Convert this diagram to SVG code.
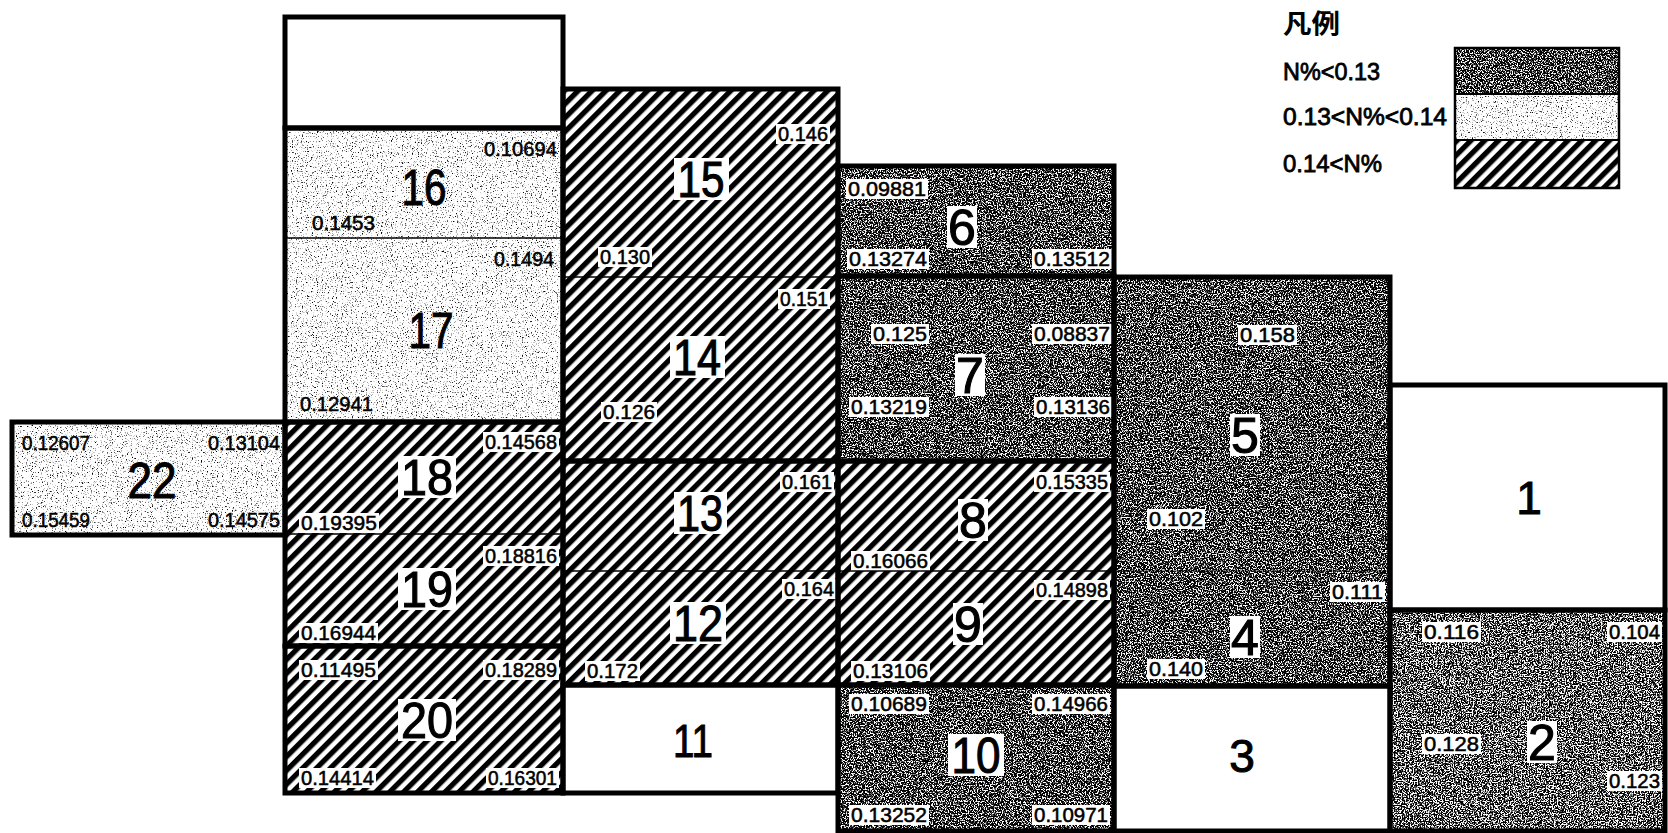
<svg xmlns="http://www.w3.org/2000/svg" width="1668" height="833" viewBox="0 0 1668 833">
<defs>
<style>
.s{font-family:"Liberation Sans",Arial,sans-serif;font-size:21px;fill:#000;stroke:#000;stroke-width:0.55}
.b{font-family:"Liberation Sans",Arial,sans-serif;font-size:50px;text-anchor:middle;fill:#000;stroke:#000;stroke-width:1.1}
.bw{font-family:"Liberation Sans",Arial,sans-serif;font-size:46px;text-anchor:middle;fill:#000;stroke:#000;stroke-width:1}
.lg{font-family:"Liberation Sans",Arial,sans-serif;font-size:24px;fill:#000;stroke:#000;stroke-width:0.8}
.cjk{font-family:"Liberation Sans","Noto Sans CJK JP",sans-serif;font-size:26px;font-weight:bold;fill:#000}
.box{fill:#fff}
.thick{fill:none;stroke:#000;stroke-width:5}
.thin{stroke:#000;stroke-width:1.5}
.hatch{fill:url(#hatch)}
.dark{fill:#000;filter:url(#fDark)}
.dark2{fill:#000;filter:url(#fDark2)}
.light{fill:#fff;filter:url(#fLight)}
.white{fill:#fff}
</style>
<pattern id="hatch" patternUnits="userSpaceOnUse" width="9.8" height="9.8" patternTransform="rotate(45)">
<rect width="9.8" height="9.8" fill="#fff"/>
<rect width="5.3" height="9.8" fill="#000"/>
</pattern>
<filter id="fDark" x="0" y="0" width="1" height="1" color-interpolation-filters="sRGB">
<feTurbulence type="fractalNoise" baseFrequency="0.75" numOctaves="2" seed="7" result="n"/>
<feColorMatrix in="n" type="matrix" values="8 0 0 0 -3.9  8 0 0 0 -3.9  8 0 0 0 -3.9  0 0 0 0 1" result="g"/>
<feComposite in="g" in2="SourceAlpha" operator="in"/>
</filter>
<filter id="fDark2" x="0" y="0" width="1" height="1" color-interpolation-filters="sRGB">
<feTurbulence type="fractalNoise" baseFrequency="0.75" numOctaves="2" seed="11" result="n"/>
<feColorMatrix in="n" type="matrix" values="8 0 0 0 -3.7  8 0 0 0 -3.7  8 0 0 0 -3.7  0 0 0 0 1" result="g"/>
<feComposite in="g" in2="SourceAlpha" operator="in"/>
</filter>
<filter id="fLight" x="0" y="0" width="1" height="1" color-interpolation-filters="sRGB">
<feTurbulence type="fractalNoise" baseFrequency="0.8" numOctaves="2" seed="3" result="n"/>
<feColorMatrix in="n" type="matrix" values="-5 0 0 0 3.95  -5 0 0 0 3.95  -5 0 0 0 3.95  0 0 0 0 1" result="g"/>
<feComposite in="g" in2="SourceAlpha" operator="in"/>
</filter>
</defs>
<rect width="1668" height="833" fill="#fff"/>

<g id="blank-top"><rect class="white" x="285" y="17" width="278" height="111"/></g>

<g id="r16">
<rect class="light" x="285" y="128" width="278" height="110"/>
<text class="s" x="484" y="156" textLength="73" lengthAdjust="spacingAndGlyphs">0.10694</text>
<text class="b" x="424" y="205" textLength="45" lengthAdjust="spacingAndGlyphs">16</text>
<text class="s" x="312" y="230" textLength="63" lengthAdjust="spacingAndGlyphs">0.1453</text>
</g>
<g id="r17">
<rect class="light" x="285" y="238" width="278" height="184"/>
<text class="s" x="494" y="266" textLength="60" lengthAdjust="spacingAndGlyphs">0.1494</text>
<text class="b" x="431" y="348" textLength="45" lengthAdjust="spacingAndGlyphs">17</text>
<text class="s" x="300" y="411" textLength="73" lengthAdjust="spacingAndGlyphs">0.12941</text>
</g>
<g id="r22">
<rect class="light" x="12" y="422" width="273" height="113"/>
<text class="s" x="22" y="450" textLength="68" lengthAdjust="spacingAndGlyphs">0.12607</text>
<text class="s" x="208" y="450" textLength="72" lengthAdjust="spacingAndGlyphs">0.13104</text>
<text class="b" x="152" y="498" textLength="49" lengthAdjust="spacingAndGlyphs">22</text>
<text class="s" x="22" y="527" textLength="68" lengthAdjust="spacingAndGlyphs">0.15459</text>
<text class="s" x="208" y="527" textLength="72" lengthAdjust="spacingAndGlyphs">0.14575</text>
</g>
<g id="r18">
<rect class="hatch" x="285" y="422" width="278" height="112"/>
<rect class="box" x="483" y="432" width="76" height="20"/>
<text class="s" x="485" y="449" textLength="72" lengthAdjust="spacingAndGlyphs">0.14568</text>
<rect class="box" x="398" y="456" width="58" height="42"/>
<text class="b" x="427" y="495" textLength="52" lengthAdjust="spacingAndGlyphs">18</text>
<rect class="box" x="299" y="513" width="80" height="20"/>
<text class="s" x="301" y="530" textLength="76" lengthAdjust="spacingAndGlyphs">0.19395</text>
</g>
<g id="r19">
<rect class="hatch" x="285" y="534" width="278" height="112"/>
<rect class="box" x="483" y="546" width="76" height="20"/>
<text class="s" x="485" y="563" textLength="72" lengthAdjust="spacingAndGlyphs">0.18816</text>
<rect class="box" x="398" y="568" width="58" height="42"/>
<text class="b" x="427" y="607" textLength="52" lengthAdjust="spacingAndGlyphs">19</text>
<rect class="box" x="299" y="623" width="79" height="20"/>
<text class="s" x="301" y="640" textLength="75" lengthAdjust="spacingAndGlyphs">0.16944</text>
</g>
<g id="r20">
<rect class="hatch" x="285" y="646" width="278" height="147"/>
<rect class="box" x="299" y="660" width="79" height="20"/>
<text class="s" x="301" y="677" textLength="75" lengthAdjust="spacingAndGlyphs">0.11495</text>
<rect class="box" x="483" y="660" width="76" height="20"/>
<text class="s" x="485" y="677" textLength="72" lengthAdjust="spacingAndGlyphs">0.18289</text>
<rect class="box" x="398" y="699" width="58" height="42"/>
<text class="b" x="427" y="738" textLength="52" lengthAdjust="spacingAndGlyphs">20</text>
<rect class="box" x="299" y="768" width="77" height="20"/>
<text class="s" x="301" y="785" textLength="73" lengthAdjust="spacingAndGlyphs">0.14414</text>
<rect class="box" x="486" y="768" width="73" height="20"/>
<text class="s" x="488" y="785" textLength="69" lengthAdjust="spacingAndGlyphs">0.16301</text>
</g>

<g id="r15">
<rect class="hatch" x="563" y="89" width="275" height="188"/>
<rect class="box" x="776" y="124" width="54" height="20"/>
<text class="s" x="778" y="141" textLength="50" lengthAdjust="spacingAndGlyphs">0.146</text>
<rect class="box" x="674" y="158" width="55" height="42"/>
<text class="b" x="701" y="197" textLength="47" lengthAdjust="spacingAndGlyphs">15</text>
<rect class="box" x="598" y="247" width="54" height="20"/>
<text class="s" x="600" y="264" textLength="50" lengthAdjust="spacingAndGlyphs">0.130</text>
</g>
<g id="r14">
<rect class="hatch" x="563" y="277" width="275" height="184"/>
<rect class="box" x="778" y="289" width="52" height="20"/>
<text class="s" x="780" y="306" textLength="48" lengthAdjust="spacingAndGlyphs">0.151</text>
<rect class="box" x="670" y="336" width="55" height="42"/>
<text class="b" x="697" y="375" textLength="48" lengthAdjust="spacingAndGlyphs">14</text>
<rect class="box" x="601" y="402" width="56" height="20"/>
<text class="s" x="603" y="419" textLength="52" lengthAdjust="spacingAndGlyphs">0.126</text>
</g>
<g id="r13">
<rect class="hatch" x="563" y="461" width="275" height="110"/>
<rect class="box" x="780" y="472" width="54" height="20"/>
<text class="s" x="782" y="489" textLength="50" lengthAdjust="spacingAndGlyphs">0.161</text>
<rect class="box" x="674" y="492" width="53" height="42"/>
<text class="b" x="700" y="531" textLength="46" lengthAdjust="spacingAndGlyphs">13</text>
</g>
<g id="r12">
<rect class="hatch" x="563" y="571" width="275" height="114"/>
<rect class="box" x="782" y="579" width="54" height="20"/>
<text class="s" x="784" y="596" textLength="50" lengthAdjust="spacingAndGlyphs">0.164</text>
<rect class="box" x="670" y="602" width="56" height="42"/>
<text class="b" x="698" y="641" textLength="50" lengthAdjust="spacingAndGlyphs">12</text>
<rect class="box" x="585" y="661" width="55" height="20"/>
<text class="s" x="587" y="678" textLength="51" lengthAdjust="spacingAndGlyphs">0.172</text>
</g>
<g id="r11">
<rect class="white" x="563" y="685" width="275" height="108"/>
<text class="bw" x="693" y="757" textLength="40" lengthAdjust="spacingAndGlyphs">11</text>
</g>

<g id="r6">
<rect class="dark" x="838" y="166" width="276" height="110"/>
<rect class="box" x="846" y="179" width="82" height="20"/>
<text class="s" x="848" y="196" textLength="78" lengthAdjust="spacingAndGlyphs">0.09881</text>
<rect class="box" x="947" y="206" width="30" height="42"/>
<text class="b" x="962" y="245">6</text>
<rect class="box" x="847" y="249" width="82" height="20"/>
<text class="s" x="849" y="266" textLength="78" lengthAdjust="spacingAndGlyphs">0.13274</text>
<rect class="box" x="1032" y="249" width="80" height="20"/>
<text class="s" x="1034" y="266" textLength="76" lengthAdjust="spacingAndGlyphs">0.13512</text>
</g>
<g id="r7">
<rect class="dark" x="838" y="276" width="276" height="185"/>
<rect class="box" x="871" y="324" width="58" height="20"/>
<text class="s" x="873" y="341" textLength="54" lengthAdjust="spacingAndGlyphs">0.125</text>
<rect class="box" x="1032" y="324" width="80" height="20"/>
<text class="s" x="1034" y="341" textLength="76" lengthAdjust="spacingAndGlyphs">0.08837</text>
<rect class="box" x="955" y="354" width="30" height="42"/>
<text class="b" x="970" y="393">7</text>
<rect class="box" x="849" y="397" width="80" height="20"/>
<text class="s" x="851" y="414" textLength="76" lengthAdjust="spacingAndGlyphs">0.13219</text>
<rect class="box" x="1034" y="397" width="78" height="20"/>
<text class="s" x="1036" y="414" textLength="74" lengthAdjust="spacingAndGlyphs">0.13136</text>
</g>
<g id="r8">
<rect class="hatch" x="838" y="461" width="276" height="110"/>
<rect class="box" x="1034" y="472" width="76" height="20"/>
<text class="s" x="1036" y="489" textLength="72" lengthAdjust="spacingAndGlyphs">0.15335</text>
<rect class="box" x="958" y="499" width="30" height="42"/>
<text class="b" x="973" y="538">8</text>
<rect class="box" x="851" y="551" width="79" height="20"/>
<text class="s" x="853" y="568" textLength="75" lengthAdjust="spacingAndGlyphs">0.16066</text>
</g>
<g id="r9">
<rect class="hatch" x="838" y="571" width="276" height="114"/>
<rect class="box" x="1034" y="580" width="76" height="20"/>
<text class="s" x="1036" y="597" textLength="72" lengthAdjust="spacingAndGlyphs">0.14898</text>
<rect class="box" x="953" y="603" width="30" height="42"/>
<text class="b" x="968" y="642">9</text>
<rect class="box" x="851" y="661" width="79" height="20"/>
<text class="s" x="853" y="678" textLength="75" lengthAdjust="spacingAndGlyphs">0.13106</text>
</g>
<g id="r10">
<rect class="dark" x="838" y="685" width="276" height="146"/>
<rect class="box" x="849" y="694" width="80" height="20"/>
<text class="s" x="851" y="711" textLength="76" lengthAdjust="spacingAndGlyphs">0.10689</text>
<rect class="box" x="1032" y="694" width="78" height="20"/>
<text class="s" x="1034" y="711" textLength="74" lengthAdjust="spacingAndGlyphs">0.14966</text>
<rect class="box" x="948" y="734" width="56" height="42"/>
<text class="b" x="976" y="773" textLength="49" lengthAdjust="spacingAndGlyphs">10</text>
<rect class="box" x="849" y="805" width="80" height="20"/>
<text class="s" x="851" y="822" textLength="76" lengthAdjust="spacingAndGlyphs">0.13252</text>
<rect class="box" x="1032" y="805" width="78" height="20"/>
<text class="s" x="1034" y="822" textLength="74" lengthAdjust="spacingAndGlyphs">0.10971</text>
</g>

<g id="r5">
<rect class="dark" x="1114" y="277" width="276" height="294"/>
<rect class="box" x="1238" y="325" width="59" height="20"/>
<text class="s" x="1240" y="342" textLength="55" lengthAdjust="spacingAndGlyphs">0.158</text>
<rect class="box" x="1230" y="414" width="30" height="42"/>
<text class="b" x="1245" y="453">5</text>
<rect class="box" x="1147" y="509" width="58" height="20"/>
<text class="s" x="1149" y="526" textLength="54" lengthAdjust="spacingAndGlyphs">0.102</text>
</g>
<g id="r4">
<rect class="dark" x="1114" y="571" width="276" height="115"/>
<rect class="box" x="1330" y="582" width="55" height="20"/>
<text class="s" x="1332" y="599" textLength="51" lengthAdjust="spacingAndGlyphs">0.111</text>
<rect class="box" x="1230" y="616" width="30" height="42"/>
<text class="b" x="1245" y="655">4</text>
<rect class="box" x="1147" y="659" width="58" height="20"/>
<text class="s" x="1149" y="676" textLength="54" lengthAdjust="spacingAndGlyphs">0.140</text>
</g>
<g id="r3">
<rect class="white" x="1114" y="686" width="276" height="145"/>
<text class="bw" x="1242" y="772">3</text>
</g>

<g id="r1">
<rect class="white" x="1390" y="385" width="275" height="225"/>
<text class="bw" x="1529" y="514">1</text>
</g>
<g id="r2">
<rect class="dark2" x="1390" y="610" width="275" height="221"/>
<rect class="box" x="1422" y="622" width="59" height="20"/>
<text class="s" x="1424" y="639" textLength="55" lengthAdjust="spacingAndGlyphs">0.116</text>
<rect class="box" x="1607" y="622" width="55" height="20"/>
<text class="s" x="1609" y="639" textLength="51" lengthAdjust="spacingAndGlyphs">0.104</text>
<rect class="box" x="1422" y="734" width="59" height="20"/>
<text class="s" x="1424" y="751" textLength="55" lengthAdjust="spacingAndGlyphs">0.128</text>
<rect class="box" x="1527" y="721" width="30" height="42"/>
<text class="b" x="1542" y="760">2</text>
<rect class="box" x="1607" y="771" width="55" height="20"/>
<text class="s" x="1609" y="788" textLength="51" lengthAdjust="spacingAndGlyphs">0.123</text>
</g>

<g id="legend">
<text class="cjk" x="1283" y="33" textLength="57" lengthAdjust="spacingAndGlyphs">凡例</text>
<text class="lg" x="1283" y="80" textLength="97" lengthAdjust="spacingAndGlyphs">N%&lt;0.13</text>
<text class="lg" x="1283" y="125" textLength="164" lengthAdjust="spacingAndGlyphs">0.13&lt;N%&lt;0.14</text>
<text class="lg" x="1283" y="172" textLength="99" lengthAdjust="spacingAndGlyphs">0.14&lt;N%</text>
<rect class="dark" x="1455" y="48" width="164" height="46"/>
<rect class="light" x="1455" y="94" width="164" height="46"/>
<rect class="hatch" x="1455" y="140" width="164" height="48"/>
<rect x="1455" y="48" width="164" height="140" fill="none" stroke="#000" stroke-width="2.5"/>
<line x1="1455" y1="94" x2="1619" y2="94" stroke="#000" stroke-width="2"/>
<line x1="1455" y1="140" x2="1619" y2="140" stroke="#000" stroke-width="2"/>
</g>

<g id="connectors">
<g id="dividers">
<line class="thin" x1="285" y1="238" x2="563" y2="238"/>
<line class="thin" x1="285" y1="534" x2="563" y2="534"/>
<line class="thin" x1="563" y1="277" x2="838" y2="277"/>
<line class="thin" x1="563" y1="571" x2="838" y2="571"/>
<line class="thin" x1="838" y1="571" x2="1114" y2="571"/>
<line class="thin" x1="1114" y1="571" x2="1390" y2="571" stroke-opacity="0.5"/>
</g>
<g id="borders">
<rect class="thick" x="285" y="17" width="278" height="111"/>
<rect class="thick" x="285" y="128" width="278" height="294"/>
<rect class="thick" x="285" y="422" width="278" height="224"/>
<rect class="thick" x="285" y="646" width="278" height="147"/>
<rect class="thick" x="12" y="422" width="273" height="113"/>
<rect class="thick" x="563" y="89" width="275" height="372"/>
<rect class="thick" x="563" y="461" width="275" height="224"/>
<rect class="thick" x="563" y="685" width="275" height="108"/>
<rect class="thick" x="838" y="166" width="276" height="110"/>
<rect class="thick" x="838" y="276" width="276" height="185"/>
<rect class="thick" x="838" y="461" width="276" height="224"/>
<rect class="thick" x="838" y="685" width="276" height="146"/>
<rect class="thick" x="1114" y="277" width="276" height="409"/>
<rect class="thick" x="1114" y="686" width="276" height="145"/>
<rect class="thick" x="1390" y="385" width="275" height="225"/>
<rect class="thick" x="1390" y="610" width="275" height="221"/>
</g>
</g>
</svg>
